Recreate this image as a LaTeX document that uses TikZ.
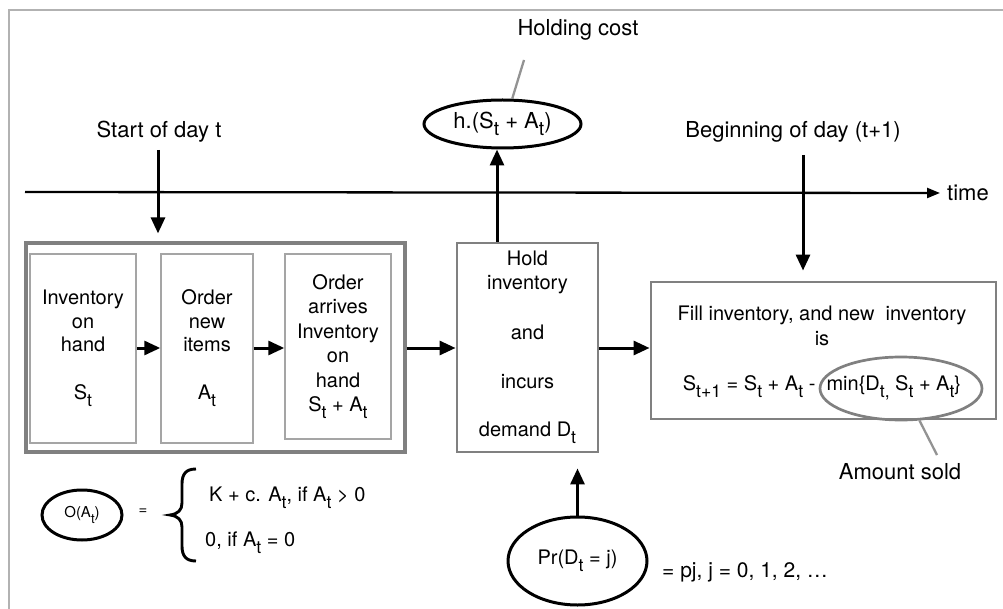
\documentclass[tikz,border=0pt]{standalone}
\usepackage{fontspec}
\setmainfont{TeX Gyre Heros}
\usetikzlibrary{arrows.meta,shapes.geometric}
\newcommand\dn[1]{\raisebox{-0.35em}{\scalebox{0.88}{#1}}}
\definecolor{frameg}{RGB}{178,178,178}
\definecolor{boxg}{RGB}{128,128,128}
\definecolor{inng}{RGB}{165,165,165}
\begin{document}
\begin{tikzpicture}[x=1pt,y=-1pt,
  lbl/.style={font=\fontsize{22}{26}\selectfont, inner sep=0pt},
  txt/.style={font=\fontsize{20}{24}\selectfont, inner sep=0pt, align=center},
  bigbox/.style={draw=boxg, line width=3.2pt, rectangle, inner sep=0pt},
  inbox/.style={draw=inng, line width=1.5pt, rectangle, inner sep=0pt, align=center, font=\fontsize{20}{23.5}\selectfont},
  procbox/.style={draw=boxg, line width=2.9pt, rectangle, inner sep=0pt, align=center, font=\fontsize{20}{24}\selectfont},
  blackell/.style={draw=black, line width=3pt, ellipse, inner sep=0pt},
  grayell/.style={draw=boxg, line width=2.7pt, ellipse, inner sep=0pt},
  grayline/.style={draw=boxg!85, line width=2.3pt},
  arr/.style={-{Triangle[length=16pt,width=14pt]}, line width=3pt},
  arrs/.style={-{Triangle[length=13pt,width=10pt]}, line width=2.3pt}
]
\useasboundingbox (0,0) rectangle (1003,609);
% outer frame
\draw[frameg, line width=1.8pt] (9,612) -- (9,10) -- (1006,10);

% timeline
\coordinate (t0) at (25,192);
\node[lbl, anchor=west] (time) at (947,193) {time};
\draw[arrs] (t0) -- ([xshift=-7pt]time.west);

% labels
\node[lbl] (start) at (159,132) {Start of day t};
\node[lbl] (begin) at (793,132) {Beginning of day (t+1)};
\node[lbl] (hcost) at (578,30) {Holding cost};
\node[lbl] (amt) at (900,472) {Amount sold};

% holding cost ellipse
\node[blackell, minimum width=157pt, minimum height=48pt, font=\fontsize{22}{26}\selectfont] (hc) at (502.5,124) {h.(S\dn{t} + A\dn{t})};
\coordinate (hcl) at (524,60);
\draw[grayline] (hcl) -- (hc.69);

% big box and inner boxes
\node[bigbox, minimum width=379pt, minimum height=209pt] (big) at (215.5,347.5) {};
\node[inbox, minimum width=106pt, minimum height=189pt] (b1) at (83,348.5) {Inventory\\on\\hand\\[24.5pt]S\dn{t}};
\node[inbox, minimum width=92pt, minimum height=189pt] (b2) at (207,348.5) {Order\\new\\items\\[24.5pt]A\dn{t}};
\node[inbox, minimum width=106pt, minimum height=185pt, font=\fontsize{20}{24.4}\selectfont] (b3) at (338,346.5) {Order\\arrives\\Inventory\\on\\hand\\S\dn{t} + A\dn{t}};

% hold box
\node[procbox, minimum width=141pt, minimum height=209pt] (hold) at (527.5,347.5) {Hold\\inventory\\[26pt]and\\[25pt]incurs\\[24pt]demand D\dn{t}};

% fill box
\node[procbox, minimum width=345pt, minimum height=137pt] (fill) at (823.5,350.5) {};
\node[txt, font=\fontsize{20}{25}\selectfont] (filltxt) at (822,326) {Fill inventory, and new\ \ inventory\\is};
\node[txt] (formula) at (822,388) {S\dn{t+1} = S\dn{t} + A\dn{t} - \ min\{D\dn{t,} S\dn{t} + A\dn{t}\}};
\node[grayell, minimum width=162pt, minimum height=63pt] (minell) at (901,388.5) {};
\coordinate (amtc) at (937,455);
\draw[grayline] (minell.-60.5) -- (amtc);

% arrows between boxes
\draw[arr] (b1.east |- 0,348) -- (b2.west |- 0,348);
\draw[arr] (b2.east |- 0,348) -- (b3.west |- 0,348);
\draw[arr] (big.east |- 0,348) -- (hold.west |- 0,348);
\draw[arr] (hold.east |- 0,348) -- (fill.west |- 0,348);

% vertical arrows
\coordinate (sTop) at (158,150);
\draw[arr] (sTop) -- ([yshift=8pt]big.north -| sTop);
\coordinate (bTop) at (803,155);
\draw[arr] (bTop) -- ([yshift=10pt]fill.north -| bTop);
\draw[arr] ([xshift=-30.5pt]hold.north) -- ([xshift=-30.5pt]hold.north |- hc.south);

% demand distribution
\node[blackell, minimum width=139pt, minimum height=88pt, font=\fontsize{20}{24}\selectfont] (pr) at (577.5,561) {Pr(D\dn{t} = j)};
\draw[arr] (pr.north) -- ([yshift=-15pt]hold.south -| pr.north);
\node[txt, anchor=west, font=\fontsize{21}{25}\selectfont] (prv) at (662,572) {= pj, j = 0, 1, 2, …};

% ordering cost
\node[blackell, minimum width=80pt, minimum height=50pt, font=\fontsize{15}{18}\selectfont] (oa) at (82,515) {O(A\dn{t})};
\node[txt, font=\fontsize{15}{18}\selectfont] (eq) at (143,512) {=};
\draw[line width=2.9pt] (196,469) .. controls (186,469) and (182,474) .. (182,484) -- (182,503) .. controls (182,510) and (178,514) .. (170,515) .. controls (178,516) and (182,520) .. (182,527) -- (182,546) .. controls (182,556) and (186,561) .. (196,561);
\node[txt, anchor=west] (c1) at (209,498) {K + c. A\dn{t}, if A\dn{t} > 0};
\node[txt, anchor=west] (c2) at (205,543) {0, if A\dn{t} = 0};
\end{tikzpicture}
\end{document}
